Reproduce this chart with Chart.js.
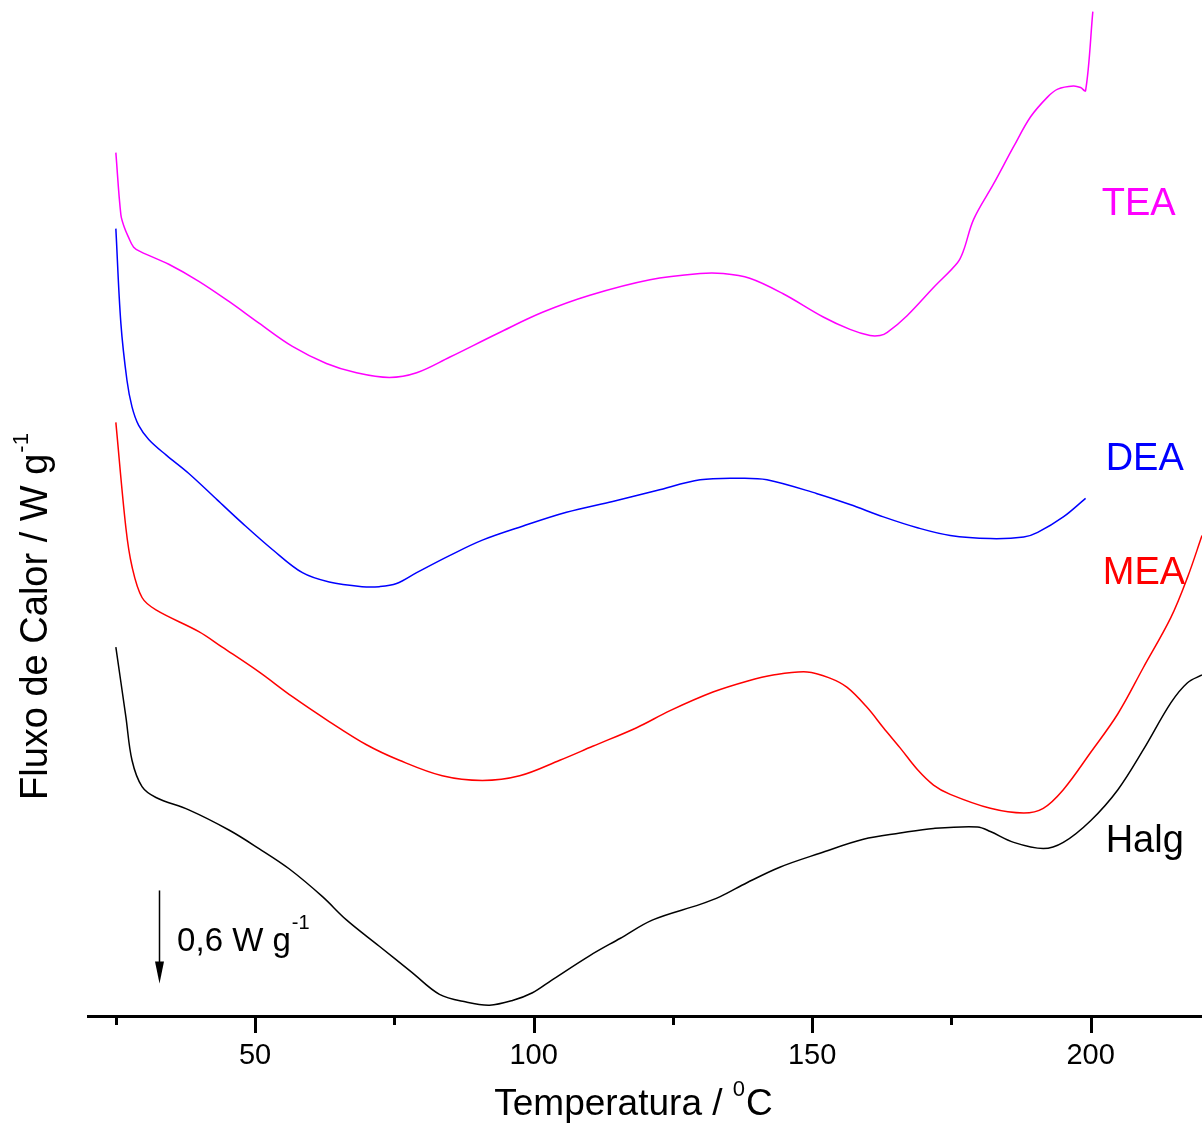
<!DOCTYPE html>
<html>
<head>
<meta charset="utf-8">
<script src="https://cdn.jsdelivr.net/npm/chart.js@4.4.1/dist/chart.umd.min.js"></script>
<style>
html, body { margin: 0; padding: 0; background: #fff; overflow: hidden; }
</style>
</head>
<body>
<canvas id="c" width="1202" height="1129"></canvas>
<script>
// curvas de DSC: temperatura (C) e fluxo de calor (W/g, com deslocamento)
var tempTEA = [25.0, 25.9, 26.5, 27.2, 28.2, 29.5, 34.5, 39.9, 45.3, 50.7, 56.7, 62.8, 68.2, 74.1, 79.0, 84.9, 93.9, 101.6, 110.1, 120.9, 129.9, 134.0, 138.8, 144.8, 152.0, 156.8, 160.4, 162.2, 163.5, 167.1, 171.8, 176.1, 177.2, 179.0, 182.6, 186.2, 189.2, 192.3, 194.1, 196.9, 198.2, 199.1, 200.4];
var fluxTEA = [5.57, 5.17, 5.09, 5.03, 4.96, 4.93, 4.85, 4.74, 4.61, 4.47, 4.32, 4.21, 4.15, 4.12, 4.15, 4.25, 4.41, 4.54, 4.65, 4.75, 4.79, 4.79, 4.76, 4.66, 4.51, 4.43, 4.39, 4.39, 4.41, 4.52, 4.70, 4.86, 4.94, 5.14, 5.37, 5.61, 5.80, 5.93, 5.98, 6.00, 5.99, 5.97, 6.48];

var tempDEA = [25.0, 25.9, 27.0, 27.9, 29.1, 30.9, 34.0, 38.1, 43.2, 47.7, 53.1, 58.5, 63.3, 69.2, 72.3, 75.4, 79.0, 84.9, 90.8, 98.0, 105.9, 114.2, 122.1, 129.9, 137.1, 141.9, 150.9, 156.8, 162.8, 168.9, 174.8, 182.0, 188.0, 190.5, 195.1, 199.1];
var fluxDEA = [5.08, 4.47, 4.10, 3.93, 3.81, 3.72, 3.62, 3.50, 3.33, 3.18, 3.01, 2.86, 2.80, 2.77, 2.77, 2.79, 2.86, 2.97, 3.07, 3.16, 3.25, 3.32, 3.39, 3.46, 3.47, 3.46, 3.37, 3.30, 3.22, 3.15, 3.10, 3.08, 3.09, 3.12, 3.22, 3.34];

var tempMEA = [25.0, 26.8, 27.9, 29.7, 32.2, 39.9, 44.1, 50.7, 56.7, 63.3, 70.0, 75.9, 83.6, 90.8, 97.5, 104.7, 110.6, 118.5, 124.5, 132.2, 138.3, 143.0, 149.1, 153.2, 156.3, 159.9, 162.8, 165.8, 168.9, 171.8, 174.8, 182.0, 188.0, 191.5, 195.1, 200.0, 204.9, 209.5, 214.4, 217.4, 220.0];
var fluxMEA = [3.83, 3.15, 2.90, 2.70, 2.62, 2.48, 2.38, 2.22, 2.06, 1.90, 1.75, 1.65, 1.55, 1.52, 1.55, 1.65, 1.74, 1.86, 1.97, 2.09, 2.16, 2.20, 2.22, 2.18, 2.12, 1.99, 1.86, 1.73, 1.59, 1.49, 1.43, 1.34, 1.31, 1.34, 1.46, 1.70, 1.95, 2.25, 2.57, 2.83, 3.10];

var tempHalg = [25.0, 26.8, 27.9, 29.7, 32.2, 38.1, 45.3, 50.7, 56.1, 62.1, 66.4, 72.3, 78.2, 83.1, 87.9, 92.1, 96.2, 99.8, 103.2, 110.1, 115.5, 121.4, 129.9, 133.5, 138.3, 144.2, 151.4, 159.2, 165.8, 171.8, 179.7, 182.0, 186.2, 191.5, 195.1, 200.0, 204.9, 209.5, 214.4, 217.4, 220.0];
var fluxHalg = [2.38, 1.93, 1.65, 1.48, 1.41, 1.33, 1.20, 1.08, 0.95, 0.77, 0.62, 0.45, 0.28, 0.14, 0.09, 0.07, 0.10, 0.15, 0.23, 0.39, 0.50, 0.62, 0.72, 0.77, 0.86, 0.96, 1.05, 1.14, 1.18, 1.21, 1.22, 1.19, 1.12, 1.08, 1.12, 1.26, 1.46, 1.72, 2.02, 2.15, 2.20];

var xTicks = [25, 50, 75, 100, 125, 150, 175, 200];

var names = ['TEA', 'DEA', 'MEA', 'Halg'];
var colors = ['#ff00ff', '#0000ff', '#ff0000', '#000000'];
// onde fica o nome de cada curva (temperatura, fluxo)
var nameT = [202.0, 202.7, 202.2, 202.7];
var nameF = [5.17, 3.52, 2.79, 1.06];

// barra de escala 0,6 W/g
var barT = 32.7, barTop = 0.81, barLen = 0.6;

var FONT = '"Liberation Sans", Arial, sans-serif';

function pts(xs, ys) {
    return xs.map(function (x, i) { return {x: x, y: ys[i]}; });
}

function curve(label, xs, ys, color) {
    return {
        label: label,
        data: pts(xs, ys),
        borderColor: color,
        borderWidth: 1.5,
        pointRadius: 0,
        showLine: true,
        fill: false,
        tension: 0.35
    };
}

// ticks maiores/menores, textos e seta
var extras = {
    id: 'extras',
    afterDraw: function (chart) {
        var ctx = chart.ctx, xs = chart.scales.x, ys = chart.scales.y;
        ctx.save();
        ctx.strokeStyle = '#000';
        ctx.lineWidth = 3;
        xs.ticks.forEach(function (t) {
            var px = Math.round(xs.getPixelForValue(t.value)) + 0.5;
            var len = t.value % 50 === 0 ? 17 : 9;
            ctx.beginPath();
            ctx.moveTo(px, xs.top);
            ctx.lineTo(px, xs.top + len);
            ctx.stroke();
        });

        ctx.fillStyle = '#000';
        ctx.textBaseline = 'alphabetic';
        ctx.textAlign = 'left';

        // titulo eixo x
        ctx.font = '37px ' + FONT;
        var a = 'Temperatura / ';
        var wa = ctx.measureText(a).width;
        ctx.font = '22px ' + FONT;
        var ws = ctx.measureText('0').width;
        ctx.font = '37px ' + FONT;
        var wc = ctx.measureText('C').width;
        var x0 = 633 - (wa + ws + wc) / 2;
        ctx.fillText(a, x0, 1115);
        ctx.font = '22px ' + FONT;
        ctx.fillText('0', x0 + wa, 1096);
        ctx.font = '37px ' + FONT;
        ctx.fillText('C', x0 + wa + ws + 1, 1115);

        // titulo eixo y
        ctx.save();
        ctx.translate(47, 800);
        ctx.rotate(-Math.PI / 2);
        ctx.font = '38px ' + FONT;
        var m = 'Fluxo de Calor / W g';
        ctx.fillText(m, 0, 0);
        var wm = ctx.measureText(m).width;
        ctx.font = '22px ' + FONT;
        ctx.fillText('-1', wm + 1, -19);
        ctx.restore();

        // nomes das curvas
        ctx.font = '38px ' + FONT;
        names.forEach(function (n, i) {
            ctx.fillStyle = colors[i];
            ctx.fillText(n, xs.getPixelForValue(nameT[i]), ys.getPixelForValue(nameF[i]));
        });

        // seta de escala
        var ax = Math.round(xs.getPixelForValue(barT)) + 0.5;
        var y1 = ys.getPixelForValue(barTop), y2 = ys.getPixelForValue(barTop - barLen);
        ctx.strokeStyle = '#000';
        ctx.fillStyle = '#000';
        ctx.lineWidth = 1.5;
        ctx.beginPath();
        ctx.moveTo(ax, y1);
        ctx.lineTo(ax, y2 - 20);
        ctx.stroke();
        ctx.beginPath();
        ctx.moveTo(ax - 4.5, y2 - 22);
        ctx.lineTo(ax + 4.5, y2 - 22);
        ctx.lineTo(ax, y2);
        ctx.closePath();
        ctx.fill();

        ctx.font = '33px ' + FONT;
        var tx = xs.getPixelForValue(barT + 3.3);
        var ty = ys.getPixelForValue(barTop - 0.39);
        var lab = '0,6 W g';
        ctx.fillText(lab, tx, ty);
        var wl = ctx.measureText(lab).width;
        ctx.font = '20px ' + FONT;
        ctx.fillText('-1', tx + wl + 1, ty - 22);
        ctx.restore();
    }
};

var chart = new Chart(document.getElementById('c').getContext('2d'), {
    type: 'scatter',
    data: {
        datasets: [
            curve('TEA', tempTEA, fluxTEA, colors[0]),
            curve('DEA', tempDEA, fluxDEA, colors[1]),
            curve('MEA', tempMEA, fluxMEA, colors[2]),
            curve('Halg', tempHalg, fluxHalg, colors[3])
        ]
    },
    options: {
        responsive: false,
        animation: false,
        devicePixelRatio: 1,
        layout: { padding: { left: 88, right: 0, top: 0, bottom: 0 } },
        plugins: { legend: { display: false }, tooltip: { enabled: false } },
        scales: {
            x: {
                type: 'linear',
                position: 'bottom',
                min: 20,
                max: 220,
                grid: { display: false, drawTicks: false },
                border: { display: true, color: '#000', width: 3 },
                afterBuildTicks: function (s) {
                    s.ticks = xTicks.map(function (v) { return {value: v}; });
                },
                ticks: {
                    autoSkip: false,
                    maxRotation: 0,
                    padding: 23,
                    color: '#000',
                    font: { family: FONT, size: 29 },
                    callback: function (v) { return v % 50 === 0 ? String(v) : ''; }
                },
                afterFit: function (s) { s.height = 113; }
            },
            y: {
                display: false,
                min: 0,
                max: 6.555
            }
        }
    },
    plugins: [extras]
});
</script>
</body>
</html>
